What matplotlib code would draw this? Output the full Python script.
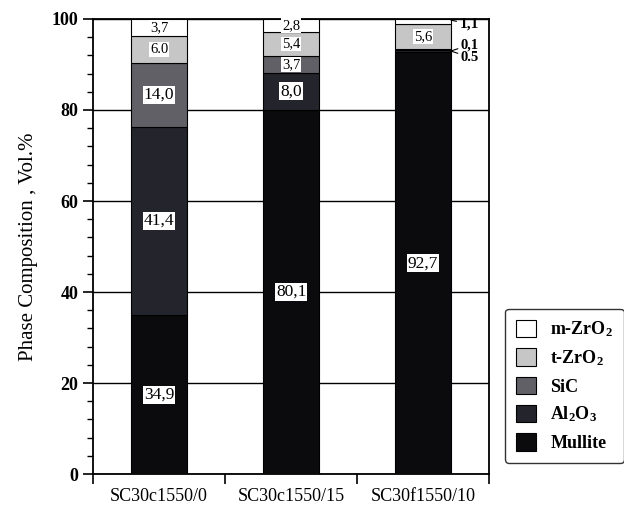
import matplotlib
matplotlib.use("Agg")
import matplotlib.pyplot as plt
import numpy as np

plt.rcParams['font.family'] = ['Liberation Serif', 'DejaVu Serif']
plt.rcParams['mathtext.fontset'] = 'custom'
plt.rcParams['mathtext.rm'] = 'Liberation Serif'
plt.rcParams['mathtext.it'] = 'Liberation Serif:italic'
plt.rcParams['mathtext.bf'] = 'Liberation Serif:bold'
plt.rcParams['mathtext.default'] = 'bf'

# ---- data ----
categories = ["SC30c1550/0", "SC30c1550/15", "SC30f1550/10"]
phases = ["Mullite", "Al$_2$O$_3$", "SiC", "t-ZrO$_2$", "m-ZrO$_2$"]
mullite = [34.9, 80.1, 92.7]
al2o3 = [41.4, 8.0, 0.5]
sic = [14.0, 3.7, 0.1]
t_zro2 = [6.0, 5.4, 5.6]
m_zro2 = [3.7, 2.8, 1.1]
# printed labels (as they appear in the figure)
lab_mullite = ["34,9", "80,1", "92,7"]
lab_al2o3 = ["41,4", "8,0", "0.5"]
lab_sic = ["14,0", "3,7", "0,1"]
lab_t = ["6.0", "5,4", "5,6"]
lab_m = ["3,7", "2,8", "1,1"]
y_ticks = [0, 20, 40, 60, 80, 100]

series = [mullite, al2o3, sic, t_zro2, m_zro2]
labels = [lab_mullite, lab_al2o3, lab_sic, lab_t, lab_m]
colors = ["#0b0b0d", "#24242c", "#606066", "#c6c6c6", "#ffffff"]

fig = plt.figure(figsize=(6.24, 5.12), dpi=100)
ax = fig.add_axes([0.149, 0.074, 0.635, 0.889])

x = np.arange(len(categories))
width = 0.42
bottom = np.zeros(len(categories))
handles = []
for vals, labs, col, name in zip(series, labels, colors, phases):
    vals = np.array(vals)
    b = ax.bar(x, vals, width, bottom=bottom, color=col, edgecolor="black",
               linewidth=0.8, label=name, zorder=3)
    handles.append(b)
    for i, (v, t) in enumerate(zip(vals, labs)):
        mid = bottom[i] + v / 2
        if v >= 2.0:
            fs = 12.5 if v >= 7 else 10.5
            ax.text(x[i], mid, t, ha="center", va="center", fontsize=fs,
                    zorder=5,
                    bbox=dict(boxstyle="square,pad=0.06", fc="white", ec="none"))
    bottom = bottom + vals

# outside labels for tiny segments of the third bar (with leader lines)
i3 = 2
edge = x[i3] + width / 2
top_m = sum(s[i3] for s in series[:4]) + m_zro2[i3] / 2
ax.annotate(lab_m[i3], xy=(edge, top_m + 0.3), xytext=(6, -3),
            textcoords="offset points", ha="left", va="center", fontsize=11,
            fontweight="bold",
            arrowprops=dict(arrowstyle="-", color="black", lw=0.8,
                            shrinkA=0, shrinkB=0))
base = mullite[i3] + al2o3[i3] + sic[i3] / 2
ax.annotate(lab_sic[i3], xy=(edge, base - 0.3), xytext=(7, 4.5),
            textcoords="offset points", ha="left", va="center", fontsize=10.5,
            fontweight="bold",
            arrowprops=dict(arrowstyle="-", color="black", lw=0.8,
                            shrinkA=0, shrinkB=0))
ax.annotate(lab_al2o3[i3], xy=(edge, base - 0.3), xytext=(7, -4.5),
            textcoords="offset points", ha="left", va="center", fontsize=10.5,
            fontweight="bold",
            arrowprops=dict(arrowstyle="-", color="black", lw=0.8,
                            shrinkA=0, shrinkB=0))

# axes styling
ax.set_xlim(-0.5, len(categories) - 0.5)
ax.set_ylim(0, 100)
ax.set_yticks(y_ticks)
ax.set_yticks(np.arange(0, 101, 4), minor=True)
ax.set_yticklabels([str(t) for t in y_ticks], fontsize=13, fontweight="bold")
ax.set_xticks(np.arange(-0.5, len(categories), 1.0))
ax.set_xticklabels([])
ax.set_xticks(x, minor=True)
ax.set_xticklabels(categories, minor=True, fontsize=13)
ax.tick_params(axis="x", which="minor", length=0, pad=10)
ax.tick_params(axis="x", which="major", direction="out", length=7, width=1.2)
ax.tick_params(axis="y", which="major", direction="out", length=7, width=1.2)
ax.tick_params(axis="y", which="minor", direction="out", length=4.5, width=1.0)
for s in ax.spines.values():
    s.set_linewidth(1.3)
ax.yaxis.grid(True, which="major", color="black", linewidth=1.0, zorder=0)
ax.set_axisbelow(True)
ax.set_ylabel("Phase Composition , Vol.%", fontsize=15, labelpad=10)

leg = fig.legend(handles[::-1], phases[::-1], loc="lower left",
                 bbox_to_anchor=(0.795, 0.078), bbox_transform=fig.transFigure,
                 frameon=True, fancybox=True, edgecolor="black",
                 handlelength=1.1, handleheight=1.1, labelspacing=0.5,
                 borderpad=0.6, handletextpad=0.8,
                 prop={"weight": "bold", "size": 13})
leg.get_frame().set_linewidth(1.0)

fig.savefig("out.png", dpi=100)
